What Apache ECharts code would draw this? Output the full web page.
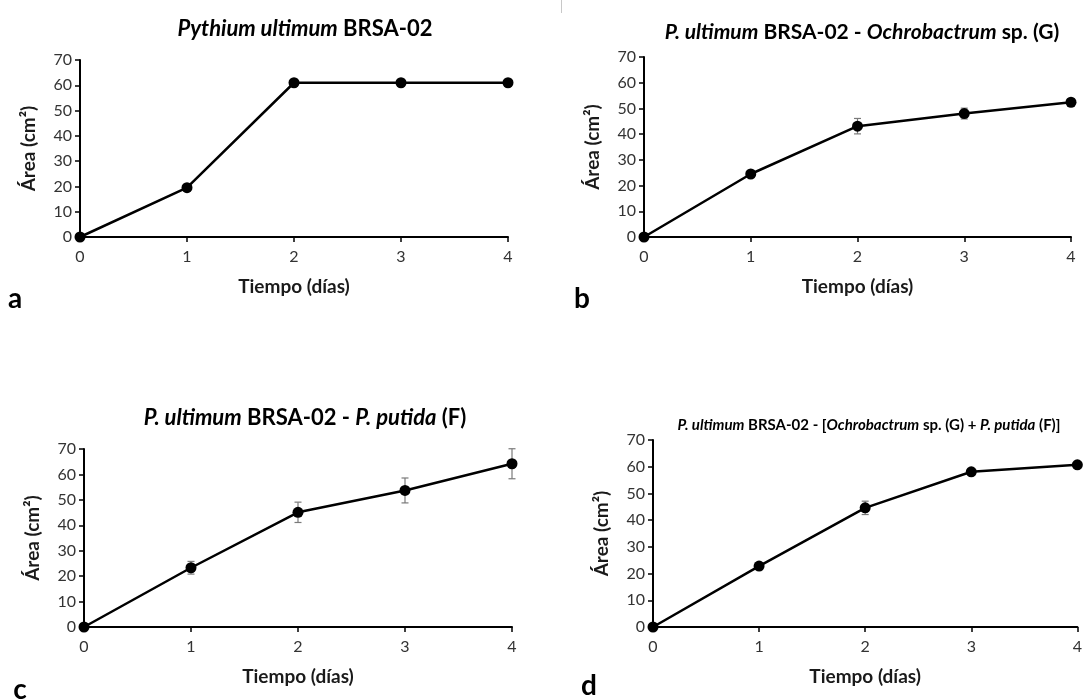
<!DOCTYPE html>
<html>
<head>
<meta charset="utf-8">
<script src="https://cdn.jsdelivr.net/npm/echarts@6/dist/echarts.min.js"></script>
<style>
  html, body { margin: 0; padding: 0; background: #fff; }
  #chart { width: 1085px; height: 700px; }
</style>
</head>
<body>
<div id="chart"></div>
<script>
// Growth of P. ultimum BRSA-02 colony area (cm²) over 4 days, four treatments
const days = [0, 1, 2, 3, 4];

const areaA = [0, 19.5, 61.0, 61.0, 61.0];
const errA  = [0, 0, 0, 0, 0];

const areaB = [0, 24.5, 43.1, 48.0, 52.4];
const errB  = [0, 1.2, 3.0, 2.1, 1.0];

const areaC = [0, 23.3, 45.1, 53.7, 64.2];
const errC  = [0, 2.5, 4.0, 4.9, 5.9];

const areaD = [0, 22.8, 44.6, 58.1, 60.7];
const errD  = [0, 1.0, 2.5, 1.0, 0.8];

const yTickMax = 70;
const yTickStep = 10;

const xAxisTitle = 'Tiempo (días)';
const yAxisTitle = 'Área (cm²)';

const panelTitles = [
  '{i|Pythium ultimum} {b|BRSA-02}',
  '{i|P. ultimum} {b|BRSA-02 -} {i|Ochrobactrum} {b|sp. (G)}',
  '{i|P. ultimum} {b|BRSA-02 -} {i|P. putida} {b|(F)}',
  '{i|P. ultimum} {b|BRSA-02 - [}{i|Ochrobactrum} {b|sp. (G) +} {i|P. putida} {b|(F)]}'
];
const panelLetters = ['a', 'b', 'c', 'd'];

const FONT = 'Lato, "Noto Sans", "DejaVu Sans", sans-serif';

const panels = [
  { area: areaA, err: errA, grid: { left: 80,  top: 60,  width: 428, height: 177 },
    title: { x: 305, y: 29, size: 22 }, letter: { x: 15, y: 299 } },
  { area: areaB, err: errB, grid: { left: 644, top: 57,  width: 427, height: 180 },
    title: { x: 862, y: 32, size: 21 }, letter: { x: 582, y: 299 } },
  { area: areaC, err: errC, grid: { left: 84,  top: 449, width: 428, height: 178 },
    title: { x: 305, y: 418, size: 22 }, letter: { x: 20, y: 690 } },
  { area: areaD, err: errD, grid: { left: 653, top: 440, width: 427, height: 187 },
    title: { x: 869, y: 425, size: 15 }, letter: { x: 589, y: 686 } }
];

// vertical error bar with short caps, placed through the panel's own axes
function errorBar(params, api) {
  const x = api.value(0);
  const lo = api.coord([x, api.value(1)]);
  const hi = api.coord([x, api.value(2)]);
  const cap = 3.5;
  const style = { stroke: '#7a7a7a', lineWidth: 1.2 };
  return {
    type: 'group',
    children: [
      { type: 'line', shape: { x1: hi[0], y1: hi[1], x2: lo[0], y2: lo[1] }, style },
      { type: 'line', shape: { x1: hi[0] - cap, y1: hi[1], x2: hi[0] + cap, y2: hi[1] }, style },
      { type: 'line', shape: { x1: lo[0] - cap, y1: lo[1], x2: lo[0] + cap, y2: lo[1] }, style }
    ]
  };
}

const grids = [], xAxes = [], yAxes = [], series = [], graphics = [];

panels.forEach((p, i) => {
  grids.push(Object.assign({ containLabel: false }, p.grid));

  xAxes.push({
    type: 'value', gridIndex: i, min: 0, max: 4, interval: 1,
    axisLine: { show: true, onZero: false, lineStyle: { color: '#000', width: 2 } },
    axisTick: { show: true, inside: false, length: 5, lineStyle: { color: '#000', width: 1.5 } },
    splitLine: { show: false },
    axisLabel: { color: '#333', fontSize: 16, fontFamily: FONT, margin: 12 },
    name: xAxisTitle, nameLocation: 'middle', nameGap: 40,
    nameTextStyle: { color: '#1a1a1a', fontSize: 19, fontWeight: 'bold', fontFamily: FONT }
  });

  yAxes.push({
    type: 'value', gridIndex: i, min: 0, max: yTickMax, interval: yTickStep,
    axisLine: { show: true, lineStyle: { color: '#000', width: 2 } },
    axisTick: { show: true, inside: false, length: 5, lineStyle: { color: '#000', width: 1.5 } },
    splitLine: { show: false },
    axisLabel: { color: '#333', fontSize: 16, fontFamily: FONT, margin: 8 },
    name: yAxisTitle, nameLocation: 'middle', nameGap: 42, nameRotate: 90,
    nameTextStyle: { color: '#1a1a1a', fontSize: 19, fontWeight: 'bold', fontFamily: FONT }
  });

  series.push({
    type: 'custom', xAxisIndex: i, yAxisIndex: i, z: 1,
    renderItem: errorBar,
    data: days.map((d, k) => [d, p.area[k] - p.err[k], p.area[k] + p.err[k]]),
    clip: false, silent: true
  });

  series.push({
    type: 'line', xAxisIndex: i, yAxisIndex: i, z: 2,
    data: days.map((d, k) => [d, p.area[k]]),
    symbol: 'circle', symbolSize: 11, showAllSymbol: true,
    lineStyle: { color: '#000', width: 2.5 },
    itemStyle: { color: '#000' },
    clip: false, animation: false, silent: true
  });

  graphics.push({
    type: 'text', x: p.title.x, y: p.title.y,
    style: {
      text: panelTitles[i],
      align: 'center', verticalAlign: 'middle', fill: '#000',
      font: 'bold ' + p.title.size + 'px ' + FONT,
      rich: {
        i: { fontStyle: 'italic', fontWeight: 'bold', fontSize: p.title.size, fontFamily: FONT, fill: '#000' },
        b: { fontWeight: 'bold', fontSize: p.title.size, fontFamily: FONT, fill: '#000' }
      }
    }
  });

  graphics.push({
    type: 'text', x: p.letter.x, y: p.letter.y,
    style: {
      text: panelLetters[i], align: 'center', verticalAlign: 'middle', fill: '#000',
      font: 'bold 28px ' + FONT
    }
  });
});

// thin separator stub at the top edge
graphics.push({
  type: 'line', shape: { x1: 561.5, y1: 0, x2: 561.5, y2: 13 },
  style: { stroke: '#c8c8c8', lineWidth: 1 }
});

const chart = echarts.init(document.getElementById('chart'), null, { renderer: 'canvas' });
chart.setOption({
  backgroundColor: '#ffffff',
  animation: false,
  grid: grids,
  xAxis: xAxes,
  yAxis: yAxes,
  series: series,
  graphic: graphics
});
</script>
</body>
</html>
